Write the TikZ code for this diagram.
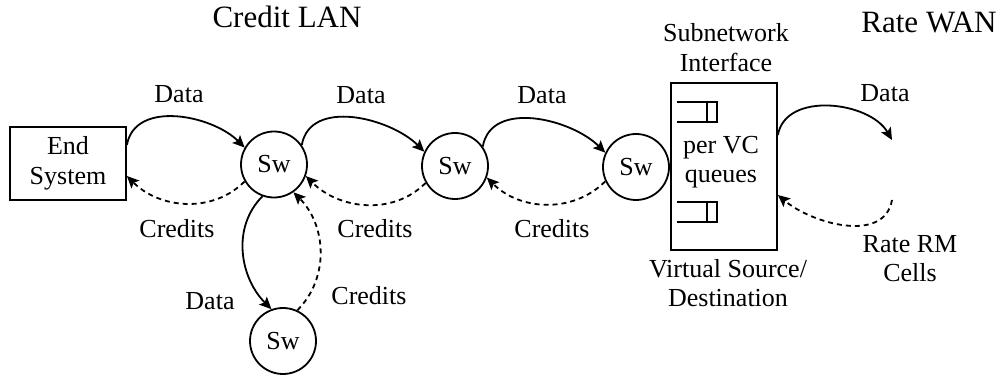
\documentclass[tikz,border=0pt]{standalone}
\usepackage{fontspec}
\setmainfont{Liberation Serif}
\usetikzlibrary{arrows.meta}
\begin{document}
\begin{tikzpicture}[x=1pt,y=1pt,
  every node/.style={font=\fontsize{26}{30}\selectfont},
  lbl/.style={anchor=base, inner sep=0pt},
  title/.style={anchor=base, inner sep=0pt, font=\fontsize{31}{36}\selectfont},
  sw/.style={draw, circle, line width=1.8pt, minimum size=66pt, inner sep=0pt},
  box/.style={draw, rectangle, line width=1.8pt, inner sep=0pt},
  flow/.style={line width=1.8pt, -{Stealth[length=12pt,width=11pt,inset=2.5pt]}},
  credit/.style={flow, dash pattern=on 5pt off 4pt},
  queue/.style={line width=1.5pt}
]
\useasboundingbox (0,0) rectangle (1003,377);

% titles
\node[title] (lan) at (287,349) {Credit LAN};
\node[title] (wan) at (929,344) {Rate WAN};

% end system and switches
\node[box, minimum width=116pt, minimum height=73pt, align=center] (es) at (68,213.5) {End\\System};
\node[sw] (sw1) at (274,212.5) {Sw};
\node[sw] (sw2) at (455,211) {Sw};
\node[sw] (sw3) at (636,210) {Sw};
\node[sw] (sw4) at (283,36) {Sw};

% subnetwork interface with per-VC queues
\node[box, minimum width=106pt, minimum height=167pt] (sni) at (724,210.5) {};
\draw[queue] (677,275) -- (717,275) -- (717,255) -- (677,255);
\draw[queue] (707,275) -- (707,255);
\draw[queue] (677,175) -- (717,175) -- (717,155) -- (677,155);
\draw[queue] (707,175) -- (707,155);
\node[lbl] (pervc) at (721,223) {per VC};
\node[lbl] (queues) at (721,194) {queues};
\node[lbl] (subnet) at (726,335) {Subnetwork};
\node[lbl] (iface) at (726,305) {Interface};
\node[lbl] (vsrc) at (728,99) {Virtual Source/};
\node[lbl] (vdst) at (728,70) {Destination};

% open ends on the WAN side
\coordinate (wanD) at (892,237);
\coordinate (wanR) at (892,177);

% data flows
\draw[flow] ([yshift=18.5pt]es.east) to[out=80,in=135] (sw1.150);
\draw[flow] (sw1.35) to[out=80,in=135] (sw2.155);
\draw[flow] (sw2.35) to[out=80,in=135] (sw3.155);
\draw[flow] ([yshift=31.5pt]sni.east) to[out=80,in=120] (wanD);
\draw[flow] (sw1.250) to[out=225,in=135] (sw4.110);

% credit / feedback flows
\draw[credit] (sw1.210) to[out=225,in=-45] ([yshift=-12.5pt]es.east);
\draw[credit] (sw2.210) to[out=225,in=-45] (sw1.-20);
\draw[credit] (sw3.205) to[out=225,in=-45] (sw2.-20);
\draw[credit] (wanR) to[out=-100,in=-40] ([yshift=-28.5pt]sni.east);
\draw[credit] (sw4.65) to[out=45,in=-45] (sw1.-55);

% flow labels
\node[lbl] (d1) at (179,274) {Data};
\node[lbl] (d2) at (361,273) {Data};
\node[lbl] (d3) at (542,273) {Data};
\node[lbl] (d4) at (210,67) {Data};
\node[lbl] (d5) at (885,275) {Data};
\node[lbl] (c1) at (177,139) {Credits};
\node[lbl] (c2) at (375,139) {Credits};
\node[lbl] (c3) at (552,139) {Credits};
\node[lbl] (c4) at (369,72) {Credits};
\node[lbl] (rrm) at (910,124) {Rate RM};
\node[lbl] (cells) at (910,95) {Cells};
\end{tikzpicture}
\end{document}
